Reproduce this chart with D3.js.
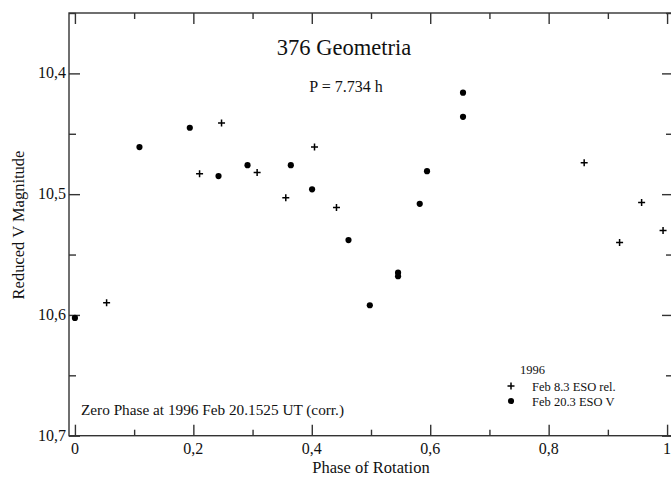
<!DOCTYPE html>
<html>
<head>
<meta charset="utf-8">
<script src="https://cdn.jsdelivr.net/npm/d3@7"></script>
<style>
  body { margin: 0; background: #fff; }
  text { font-family: "Liberation Serif", "Times New Roman", serif; fill: #111; }
</style>
</head>
<body>
<div id="chart"></div>
<script>
// phase values and reduced magnitudes
const relPhase = [0.0535, 0.2105, 0.2476, 0.3077, 0.3561, 0.4046, 0.4417, 0.860, 0.9198, 0.957, 0.9932];
const relMag   = [10.590, 10.483, 10.441, 10.482, 10.503, 10.461, 10.511, 10.474, 10.540, 10.507, 10.530];
const vPhase = [0.000, 0.109, 0.194, 0.2425, 0.2915, 0.3646, 0.4005, 0.462, 0.498, 0.5457, 0.5457, 0.5823, 0.5946, 0.6554, 0.6554];
const vMag   = [10.6025, 10.461, 10.445, 10.485, 10.476, 10.476, 10.496, 10.538, 10.592, 10.565, 10.568, 10.508, 10.481, 10.416, 10.436];

const xTicks = [0, 0.2, 0.4, 0.6, 0.8, 1];
const xTickLabels = ["0", "0,2", "0,4", "0,6", "0,8", "1"];
const xMinor = [0.1, 0.3, 0.5, 0.7, 0.9];
const yTicks = [10.4, 10.5, 10.6, 10.7];
const yTickLabels = ["10,4", "10,5", "10,6", "10,7"];
const yMinor = [10.35, 10.45, 10.55, 10.65];

const legendYear = "1996";
const seriesNames = ["Feb 8.3 ESO rel.", "Feb 20.3 ESO V"];

const W = 671, H = 477;
const svg = d3.select("#chart").append("svg").attr("width", W).attr("height", H);

const x = d3.scaleLinear().domain([-0.01, 1.01]).range([69, 673]);
const y = d3.scaleLinear().domain([10.35, 10.7]).range([13, 435.7]);
const [x0, x1] = x.range(), [y0, y1] = y.range();

const axisColor = "#333";

// frame
svg.append("rect").attr("x", x0).attr("y", y0)
  .attr("width", x1 - x0).attr("height", y1 - y0)
  .attr("fill", "none").attr("stroke", axisColor).attr("stroke-width", 1.4);

// ticks on all four sides, pointing inwards
function ticks(axis, values, len) {
  return axis.tickValues(values).tickSize(-len).tickFormat("").tickSizeOuter(0);
}
const gAxes = svg.append("g");
[[xTicks, 11], [xMinor, 6]].forEach(([v, len]) => {
  gAxes.append("g").attr("transform", `translate(0,${y1})`).call(ticks(d3.axisBottom(x), v, len));
  gAxes.append("g").attr("transform", `translate(0,${y0})`).call(ticks(d3.axisTop(x), v, len));
});
[[yTicks, 11], [yMinor, 7]].forEach(([v, len]) => {
  gAxes.append("g").attr("transform", `translate(${x0},0)`).call(ticks(d3.axisLeft(y), v, len));
  gAxes.append("g").attr("transform", `translate(${x1},0)`).call(ticks(d3.axisRight(y), v, len));
});
gAxes.selectAll(".domain").remove();
gAxes.selectAll("line").attr("stroke", axisColor).attr("stroke-width", 1.4);

// tick labels
svg.append("g").selectAll("text").data(xTicks).enter().append("text")
  .attr("x", d => x(d)).attr("y", 454)
  .attr("text-anchor", "middle").attr("font-size", 16)
  .text((d, i) => xTickLabels[i]);
svg.append("g").selectAll("text").data(yTicks).enter().append("text")
  .attr("x", 66).attr("y", d => y(d) + 5)
  .attr("text-anchor", "end").attr("font-size", 16)
  .text((d, i) => yTickLabels[i]);

// axis titles
svg.append("text").attr("x", 371).attr("y", 473)
  .attr("text-anchor", "middle").attr("font-size", 16.5).text("Phase of Rotation");
svg.append("text").attr("transform", "translate(24,225) rotate(-90)")
  .attr("text-anchor", "middle").attr("font-size", 16.5).text("Reduced V Magnitude");

// annotations
svg.append("text").attr("x", 344).attr("y", 55)
  .attr("text-anchor", "middle").attr("font-size", 22.5).text("376 Geometria");
svg.append("text").attr("x", 346).attr("y", 92)
  .attr("text-anchor", "middle").attr("font-size", 16).text("P = 7.734 h");
svg.append("text").attr("x", 81).attr("y", 415)
  .attr("font-size", 14.5).attr("textLength", 263).attr("lengthAdjust", "spacingAndGlyphs")
  .text("Zero Phase at 1996 Feb 20.1525 UT (corr.)");

// markers
const plus = d3.symbol().type(d3.symbolCross).size(0);
function drawPlus(g, cx, cy) {
  g.append("path").attr("d", `M${cx - 3.5},${cy}H${cx + 3.5}M${cx},${cy - 3.5}V${cy + 3.5}`)
    .attr("stroke", "#000").attr("stroke-width", 1.5).attr("fill", "none");
}
const star = d3.symbol().type(d3.symbolCircle).size(30);

const gPts = svg.append("g");
relPhase.forEach((p, i) => drawPlus(gPts, x(p), y(relMag[i])));
gPts.selectAll("path.v").data(vPhase).enter().append("path").attr("class", "v")
  .attr("d", star)
  .attr("transform", (d, i) => `translate(${x(d)},${y(vMag[i])})`)
  .attr("fill", "#000");

// legend
const lg = svg.append("g");
lg.append("text").attr("x", 520).attr("y", 374).attr("font-size", 12.5).text(legendYear);
drawPlus(lg, 511, 386);
lg.append("path").attr("d", star).attr("transform", "translate(511,401)").attr("fill", "#000");
seriesNames.forEach((s, i) => {
  lg.append("text").attr("x", 532).attr("y", 391 + i * 15).attr("font-size", 12.5).text(s);
});
</script>
</body>
</html>
